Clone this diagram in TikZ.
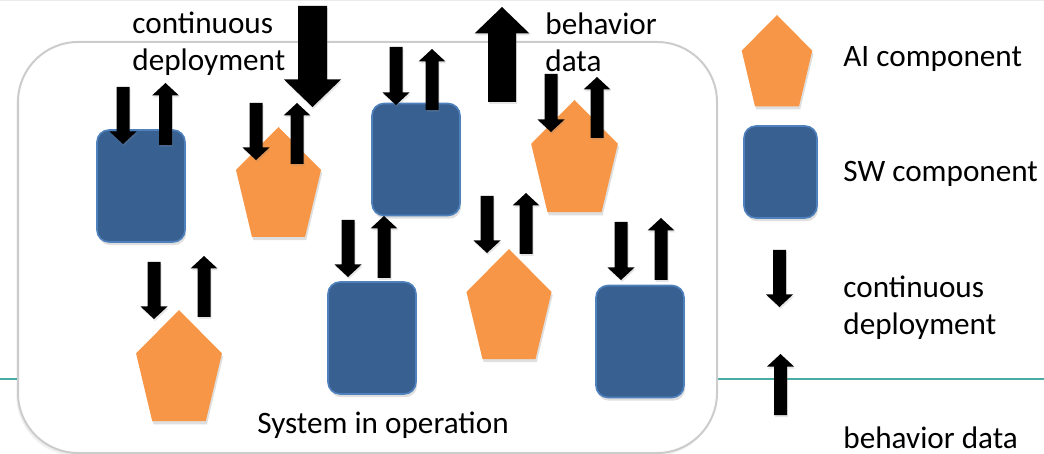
\documentclass[tikz,border=0pt]{standalone}
\usepackage{fontspec}
\setmainfont{Carlito}
\usetikzlibrary{shadows}
\definecolor{aiorange}{RGB}{247,150,70}
\definecolor{swblue}{RGB}{56,97,146}
\definecolor{swedge}{RGB}{79,129,189}
\definecolor{tealline}{RGB}{75,172,164}

% block arrow: x, tail y, tip y, half shaft width, half head width
\newcommand{\blockarrow}[5]{%
\pgfmathsetmacro{\hb}{#3+ifthenelse(#2>#3,1,-1)*(#5-1)}%
\fill[blk] (#1-#4,#2) -- (#1-#4,\hb) -- (#1-#5,\hb) -- (#1,#3) -- (#1+#5,\hb) -- (#1+#4,\hb) -- (#1+#4,#2) -- cycle;}
\newcommand{\smallarrow}[3]{\blockarrow{#1}{#2}{#3}{6.5}{13.5}}

% AI component: x of top vertex, y of top vertex, scale
\newcommand{\aishape}[3]{%
\fill[ai, shift={(#1,#2)}, scale=#3] (0,0) -- (42.5,43) -- (26.5,110) -- (-26.5,110) -- (-42.5,43) -- cycle;}

\begin{document}
\begin{tikzpicture}[x=0.5pt,y=-0.5pt]

\tikzstyle{shadowed} = [drop shadow={shadow xshift=0.6pt, shadow yshift=-1.6pt, opacity=0.25}]
\tikzstyle{sysbox} = [draw=black!20, line width=1pt, fill=white, rounded corners=30pt,
drop shadow={shadow xshift=-0.8pt, shadow yshift=-1.5pt, opacity=0.12}]
\tikzstyle{sw} = [draw=swedge, line width=0.8pt, fill=swblue, rounded corners=6pt,
minimum width=44pt, minimum height=56pt, inner sep=0, shadowed]
\tikzstyle{ai} = [fill=aiorange, shadowed]
\tikzstyle{blk} = [fill=black, drop shadow={shadow xshift=0.5pt, shadow yshift=-1pt, opacity=0.2}]
\tikzstyle{label} = [inner sep=0, font=\fontsize{15.6pt}{18.5pt}\selectfont, align=left]

\useasboundingbox (0,0) rectangle (1044,454);

% slide lines
\draw[black!8, line width=0.5pt] (0,1) -- (1044,1);
\draw[tealline, line width=0.6pt] (0,379) -- (1044,379);

% system in operation
\draw[sysbox] (18,42) rectangle (717,453);

% software components
\node[sw] (sw1) at (141,186) {};
\node[sw] (sw2) at (416,159.5) {};
\node[sw] (sw3) at (372,338) {};
\node[sw] (sw4) at (640,341.5) {};

% AI components
\aishape{278.5}{127}{1}
\aishape{574.5}{100}{1.02}
\aishape{179}{310}{1.01}
\aishape{509}{249}{1}

% deployment and data arrows at each component
\smallarrow{123}{87}{144}
\smallarrow{165.5}{145}{83}
\smallarrow{256}{103}{160}
\smallarrow{297}{164}{103}
\smallarrow{396}{47}{105}
\smallarrow{432}{110}{49}
\smallarrow{551}{74}{132}
\smallarrow{597}{138}{77}
\smallarrow{154}{262}{319}
\smallarrow{204}{317}{256}
\smallarrow{348}{220}{277}
\smallarrow{384}{278}{216}
\smallarrow{487}{196}{253}
\smallarrow{526}{254}{193}
\smallarrow{621}{222}{280}
\smallarrow{661}{280}{218}

% main flows
\blockarrow{312.5}{6}{107}{14.5}{28.5}
\blockarrow{502}{102}{7}{14}{27.5}
\node[label, anchor=base west] (deploy) at (132,71) {continuous\\deployment};
\node[label, anchor=base west] (behave) at (545,72) {behavior\\data};
\node[label, anchor=base] (system) at (383,433) {System in operation};

% legend
\aishape{777}{15}{0.83}
\node[sw, minimum width=36.5pt, minimum height=46pt] (swkey) at (780.5,172) {};
\smallarrow{779.5}{250}{307}
\smallarrow{780.5}{415}{354}
\node[label, anchor=base west] (aitext) at (843,67) {AI component};
\node[label, anchor=base west] (swtext) at (843,182) {SW component};
\node[label, anchor=base west] (cdtext) at (843,335) {continuous\\deployment};
\node[label, anchor=base west] (bdtext) at (843,448) {behavior data};

\end{tikzpicture}
\end{document}
